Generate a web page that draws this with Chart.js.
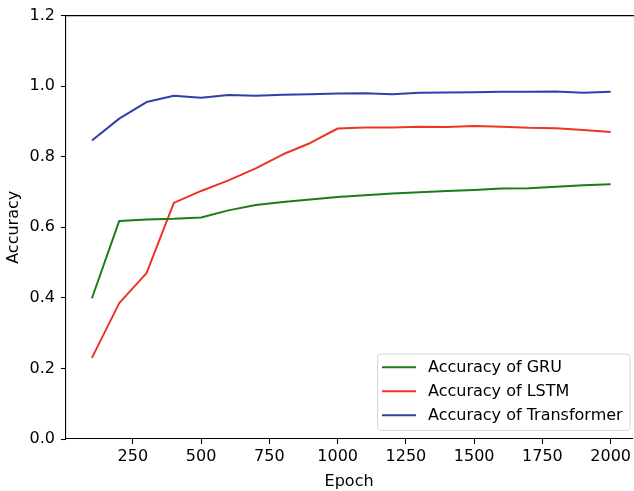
<!DOCTYPE html>
<html>
<head>
<meta charset="utf-8">
<script src="https://cdn.jsdelivr.net/npm/chart.js@4.4.0/dist/chart.umd.min.js"></script>
<style>
  html, body { margin: 0; padding: 0; background: #fff; overflow: hidden; }
  #wrap { width: 634px; height: 491px; position: relative; }
</style>
</head>
<body>
<div id="wrap"><canvas id="c" width="634" height="491"></canvas></div>
<script>
// Training epochs at which accuracy was recorded
const epochs = [100, 200, 300, 400, 500, 600, 700, 800, 900, 1000,
                1100, 1200, 1300, 1400, 1500, 1600, 1700, 1800, 1900, 2000];

// Accuracy per model
const gruAcc = [0.399, 0.618, 0.622, 0.624, 0.628, 0.648, 0.663, 0.672, 0.679, 0.686,
                0.691, 0.696, 0.699, 0.703, 0.706, 0.710, 0.711, 0.715, 0.719, 0.722];
const lstmAcc = [0.230, 0.385, 0.470, 0.669, 0.703, 0.733, 0.767, 0.807, 0.839, 0.880,
                 0.883, 0.883, 0.885, 0.884, 0.887, 0.885, 0.882, 0.881, 0.876, 0.870];
const transformerAcc = [0.846, 0.908, 0.955, 0.973, 0.967, 0.975, 0.973, 0.976, 0.977, 0.979,
                        0.980, 0.977, 0.981, 0.982, 0.983, 0.984, 0.984, 0.985, 0.981, 0.984];

const seriesLabels = ['Accuracy of GRU', 'Accuracy of LSTM', 'Accuracy of Transformer'];

// Axis tick positions
const xTicks = [250, 500, 750, 1000, 1250, 1500, 1750, 2000];
const yTicks = [0.0, 0.2, 0.4, 0.6, 0.8, 1.0, 1.2];

const FONT = "'DejaVu Sans', sans-serif";
const FS = 16;

function toPoints(vals) {
  return epochs.map((e, i) => ({ x: e, y: vals[i] }));
}

// Draws the top frame line and a boxed legend in the lower right of the plot
const framePlugin = {
  id: 'frameAndLegend',
  afterDatasetsDraw(chart) {
    const { ctx, chartArea } = chart;
    ctx.save();
    ctx.strokeStyle = '#000';
    ctx.lineWidth = 1.1;
    ctx.beginPath();
    ctx.moveTo(chartArea.left - 0.5, chartArea.top);
    ctx.lineTo(chartArea.right + 2, chartArea.top);
    ctx.stroke();

    // legend box
    const bx = 377.5, by = 354, bw = 252.5, bh = 76.5, r = 3;
    ctx.fillStyle = 'rgba(255,255,255,0.8)';
    ctx.strokeStyle = '#d6d6d6';
    ctx.lineWidth = 1;
    ctx.beginPath();
    ctx.moveTo(bx + r, by);
    ctx.lineTo(bx + bw - r, by);
    ctx.arcTo(bx + bw, by, bx + bw, by + r, r);
    ctx.lineTo(bx + bw, by + bh - r);
    ctx.arcTo(bx + bw, by + bh, bx + bw - r, by + bh, r);
    ctx.lineTo(bx + r, by + bh);
    ctx.arcTo(bx, by + bh, bx, by + bh - r, r);
    ctx.lineTo(bx, by + r);
    ctx.arcTo(bx, by, bx + r, by, r);
    ctx.closePath();
    ctx.fill();
    ctx.stroke();

    const rowY = [367.3, 391.2, 415.3];
    ctx.font = FS + 'px ' + FONT;
    ctx.textBaseline = 'middle';
    ctx.textAlign = 'left';
    chart.data.datasets.forEach((ds, i) => {
      ctx.strokeStyle = ds.borderColor;
      ctx.lineWidth = 2;
      ctx.beginPath();
      ctx.moveTo(382, rowY[i]);
      ctx.lineTo(416, rowY[i]);
      ctx.stroke();
      ctx.fillStyle = '#000';
      ctx.fillText(ds.label, 428, rowY[i] + 0.5);
    });
    ctx.restore();
  }
};

new Chart(document.getElementById('c'), {
  type: 'line',
  data: {
    datasets: [
      { label: seriesLabels[0], data: toPoints(gruAcc), borderColor: '#1a7d1a' },
      { label: seriesLabels[1], data: toPoints(lstmAcc), borderColor: '#ee3524' },
      { label: seriesLabels[2], data: toPoints(transformerAcc), borderColor: '#3040a8' }
    ].map(d => Object.assign(d, {
      borderWidth: 2, pointRadius: 0, tension: 0, fill: false,
      borderJoinStyle: 'round', borderCapStyle: 'butt'
    }))
  },
  options: {
    responsive: false,
    animation: false,
    devicePixelRatio: 1,
    layout: { padding: { top: 14, right: 0, left: 0, bottom: 0 } },
    plugins: { legend: { display: false }, tooltip: { enabled: false } },
    scales: {
      x: {
        type: 'linear',
        min: 5,
        max: 2079,
        afterBuildTicks(axis) { axis.ticks = xTicks.map(v => ({ value: v })); },
        afterFit(axis) { axis.height = 52; },
        grid: { display: true, drawOnChartArea: false, drawTicks: true, tickLength: 5, tickColor: '#000', tickWidth: 1.1 },
        border: { display: true, color: '#000', width: 1.1 },
        ticks: { color: '#000', font: { family: FONT, size: FS }, padding: 3, maxRotation: 0, autoSkip: false,
                 callback: v => String(v) },
        title: { display: true, text: 'Epoch', color: '#000', font: { family: FONT, size: FS }, padding: { top: 2.5, bottom: 0 } }
      },
      y: {
        type: 'linear',
        min: 0,
        max: 1.2,
        afterBuildTicks(axis) { axis.ticks = yTicks.map(v => ({ value: v })); },
        afterFit(axis) { axis.width = 66; },
        grid: { display: true, drawOnChartArea: false, drawTicks: true, tickLength: 5, tickColor: '#000', tickWidth: 1.1 },
        border: { display: true, color: '#000', width: 1.1 },
        ticks: { color: '#000', font: { family: FONT, size: FS }, padding: 6, callback: v => Number(v).toFixed(1) },
        title: { display: true, text: 'Accuracy', color: '#000', font: { family: FONT, size: FS }, padding: { top: 4.5, bottom: 0 } }
      }
    }
  },
  plugins: [framePlugin]
});
</script>
</body>
</html>
